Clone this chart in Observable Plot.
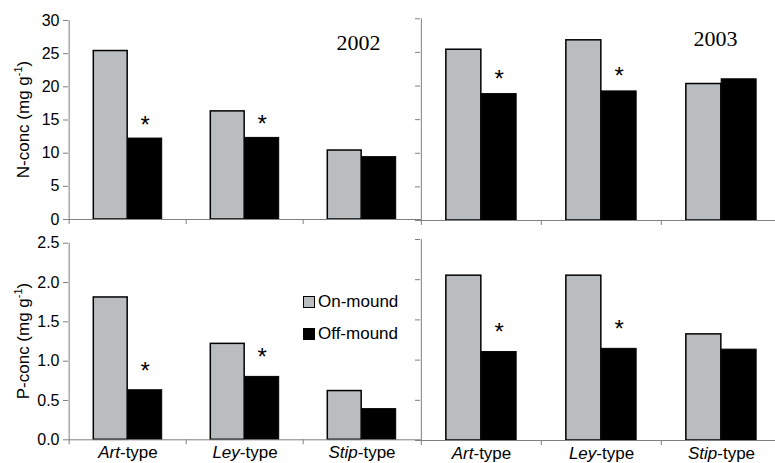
<!DOCTYPE html>
<html><head><meta charset="utf-8">
<script src="https://cdn.jsdelivr.net/npm/d3@7"></script>
<script src="https://cdn.jsdelivr.net/npm/@observablehq/plot@0.6"></script>
<style>
html,body{margin:0;padding:0;background:#fff;overflow:hidden;}
#wrap{position:relative;width:775px;height:463px;overflow:hidden;font-family:"Liberation Sans",Arial,sans-serif;}
#wrap svg{position:absolute;}
.legend{position:absolute;left:303px;top:293px;font-size:17px;color:#000;line-height:17px;}
.legend .row{display:flex;align-items:center;height:17px;margin-bottom:15px;}
.legend .sw{width:10px;height:10px;border:1.3px solid #000;margin-right:3px;}
</style></head><body><div id="wrap"></div>
<script>
// ---- data ----
const categories = ["Art-type", "Ley-type", "Stip-type"];
const series = ["On-mound", "Off-mound"];
const years = ["2002", "2003"];
const nOn2002  = [25.4, 16.3, 10.4];
const nOff2002 = [12.2, 12.3, 9.4];
const nOn2003  = [25.4, 26.8, 20.3];
const nOff2003 = [18.8, 19.2, 21.0];
const pOn2002  = [1.81, 1.22, 0.62];
const pOff2002 = [0.63, 0.80, 0.39];
const pOn2003  = [2.05, 2.05, 1.32];
const pOff2003 = [1.10, 1.14, 1.13];
const sigN2002 = ["Art-type", "Ley-type"];
const sigN2003 = ["Art-type", "Ley-type"];
const sigP2002 = ["Art-type", "Ley-type"];
const sigP2003 = ["Art-type", "Ley-type"];
const nTicks = [0, 5, 10, 15, 20, 25, 30];
const pTicks = [0, 0.5, 1.0, 1.5, 2.0, 2.5];

const GRAY = "#b9bdbf";
const AXIS = "#808080";
const wrap = document.getElementById("wrap");

function panel(o) {
  const bw = (o.width - o.mL) / categories.length;
  const half = 0.587 * bw / 2;
  const rows = categories.map((c, i) => ({cat: c, on: o.on[i], off: o.off[i]}));
  const marks = [
    Plot.barY(rows, {x: "cat", y: "on", fill: GRAY, stroke: "#000", strokeWidth: 1.5,
      insetLeft: bw / 2 - half, insetRight: bw / 2}),
    Plot.barY(rows, {x: "cat", y: "off", fill: "#000", stroke: "#000", strokeWidth: 1,
      insetLeft: bw / 2, insetRight: bw / 2 - half}),
    Plot.ruleY([0], {stroke: AXIS, strokeWidth: 1}),
    Plot.ruleX(categories.slice(0, 1), {x: d => d, dx: -bw / 2, stroke: AXIS}),
    Plot.ruleX(categories, {x: d => d, y1: 0, y2: 0, insetBottom: -5, dx: -bw / 2, stroke: AXIS}),
    Plot.axisY({ticks: o.ticks, tickSize: 5, tickPadding: 4, stroke: AXIS, fill: "#000",
      tickFormat: o.labels ? o.fmt : () => "", label: null, fontSize: 16}),
    Plot.text(rows.filter(r => o.sig.includes(r.cat)), {x: "cat", y: "off", text: () => "*",
      dx: half / 2, dy: o.starDy, fontSize: 24, fill: "#000"}),
    Plot.text([o.year], {frameAnchor: "top-right", dx: o.yearDx, dy: o.yearDy, textAnchor: "end",
      lineAnchor: "bottom", fontFamily: "'Liberation Serif','Times New Roman',serif", fontSize: 22, fill: "#000"})
  ];
  if (o.cats) {
    marks.push(Plot.text(categories, {x: d => d, y: () => 0, text: d => d, dy: 18, lineAnchor: "bottom",
      fontSize: 17, fill: "#000", ariaDescription: "catlabels"}));
  }
  const svg = Plot.plot({
    width: o.width, height: o.height,
    marginLeft: o.mL, marginRight: 0, marginTop: o.mT, marginBottom: o.mB,
    x: {domain: categories, padding: 0, axis: null},
    y: {domain: o.domain, axis: null},
    style: "background: transparent; overflow: visible; font-family: 'Liberation Sans', Arial, sans-serif; font-size: 16px; color: #000;",
    marks
  });
  svg.style.left = o.left + "px";
  svg.style.top = o.top + "px";
  const s = d3.select(svg);
  // italic prefixes of category labels
  s.selectAll("g[aria-description='catlabels'] text").each(function () {
    const full = this.textContent;
    const k = full.indexOf("-");
    const el = d3.select(this);
    el.text(null);
    el.append("tspan").attr("font-style", "italic").text(full.slice(0, k));
    el.append("tspan").text(full.slice(k));
  });
  if (o.ylab) {
    const cy = o.mT + (o.height - o.mT - o.mB) / 2;
    const t = s.append("text").attr("transform", `translate(29,${cy}) rotate(-90)`)
      .attr("text-anchor", "middle").attr("font-size", 17).attr("fill", "#000");
    t.append("tspan").text(o.ylab + " (mg g");
    t.append("tspan").attr("font-size", 11).attr("dy", -7).text("-1");
    t.append("tspan").attr("dy", 7).text(")");
  }
  wrap.appendChild(svg);
}

const fmtN = d3.format("d");
const fmtP = d3.format(".1f");

panel({on: nOn2002, off: nOff2002, sig: sigN2002, ticks: nTicks, domain: [0, 30], fmt: fmtN, labels: true,
  year: years[0], yearDx: -41, yearDy: 29, starDy: -13.7, ylab: "N-conc",
  left: 0, top: 0, width: 421, height: 230, mL: 68, mT: 20, mB: 11});
panel({on: nOn2003, off: nOff2003, sig: sigN2003, ticks: nTicks, domain: [0, 30], fmt: fmtN, labels: false,
  year: years[1], yearDx: -44, yearDy: 27, starDy: -14.7,
  left: 410, top: 0, width: 371, height: 231, mL: 10, mT: 18.3, mB: 11});
panel({on: pOn2002, off: pOff2002, sig: sigP2002, ticks: pTicks, domain: [0, 2.5], fmt: fmtP, labels: true,
  year: "", yearDx: 0, yearDy: 0, starDy: -19.2, ylab: "P-conc", cats: true,
  left: 0, top: 230, width: 421, height: 233, mL: 68, mT: 12.7, mB: 23.7});
panel({on: pOn2003, off: pOff2003, sig: sigP2003, ticks: pTicks, domain: [0, 2.5], fmt: fmtP, labels: false,
  year: "", yearDx: 0, yearDy: 0, starDy: -19.7, cats: true,
  left: 410, top: 230, width: 371, height: 233, mL: 10, mT: 9, mB: 23});

// legend
const lg = document.createElement("div");
lg.className = "legend";
const swatch = [GRAY, "#000"];
series.forEach((name, i) => {
  const row = document.createElement("div");
  row.className = "row";
  const sw = document.createElement("div");
  sw.className = "sw";
  sw.style.background = swatch[i];
  const tx = document.createElement("span");
  tx.textContent = name;
  row.appendChild(sw); row.appendChild(tx);
  lg.appendChild(row);
});
wrap.appendChild(lg);
</script></body></html>
